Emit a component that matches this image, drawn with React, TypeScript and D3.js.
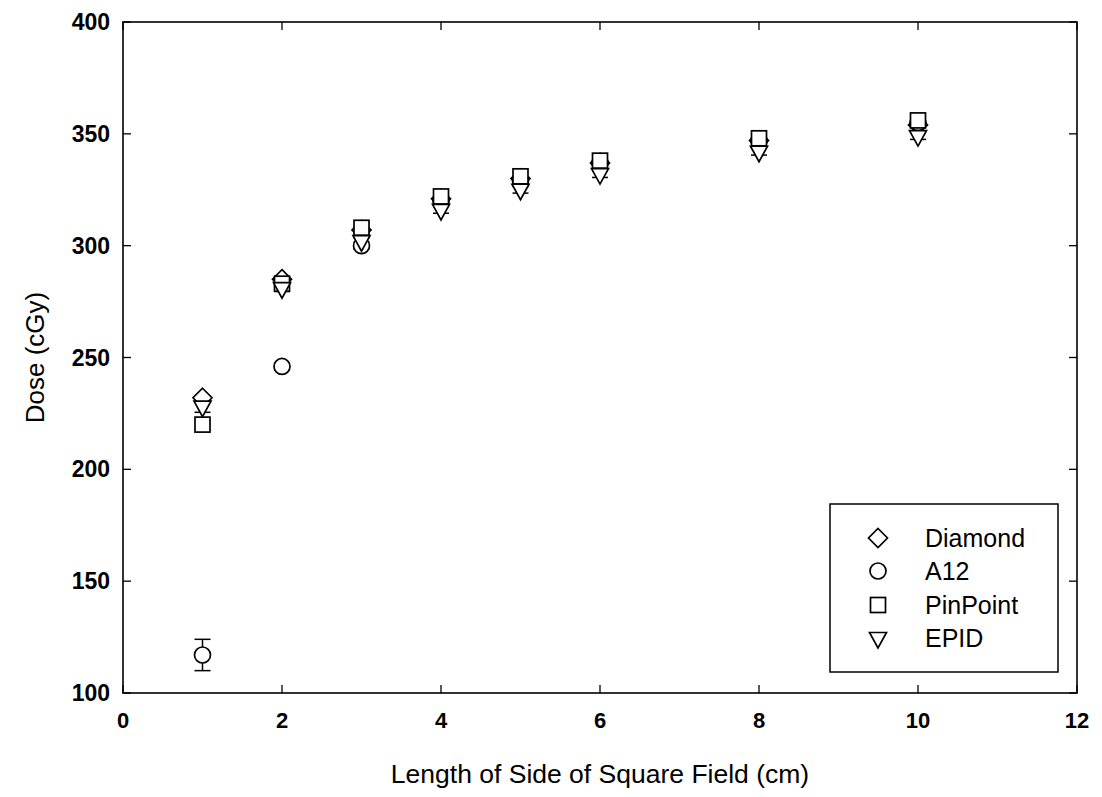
import React from "react";
import * as d3 from "d3";

const fieldSizes = [1, 2, 3, 4, 5, 6, 8, 10];
const diamondDose = [232, 285, 307, 321, 330, 337, 347, 354];
const a12Dose = [117, 246, 300, 320, 329, 337, 347, 355];
const pinpointDose = [220, 283, 308, 322, 331, 338, 348, 356];
const epidDose = [228, 281, 302, 316, 325, 332, 342, 349];
const a12Err = [7, 1.5, 1.5, 1.5, 1.5, 1.5, 1.5, 1.5];
const epidErr = [2.5, 1.5, 1.5, 1.5, 1.5, 1.5, 1.5, 1.5];
const xTicks = [0, 2, 4, 6, 8, 10, 12];
const yTicks = [100, 150, 200, 250, 300, 350, 400];
const seriesNames = ["Diamond", "A12", "PinPoint", "EPID"];

const W = 1102, H = 797;
const M = { left: 123, right: 1077, top: 22, bottom: 693 };
const FONT = "'Liberation Sans', Arial, sans-serif";

function Marker({ kind, x, y }: { kind: string; x: number; y: number }) {
  const common = { fill: "white", stroke: "black", strokeWidth: 1.7 };
  if (kind === "Diamond") {
    const s = 9.5;
    return <path d={`M${x},${y - s}L${x + s},${y}L${x},${y + s}L${x - s},${y}Z`} {...common} />;
  }
  if (kind === "A12") return <circle cx={x} cy={y} r={8} {...common} />;
  if (kind === "PinPoint") return <rect x={x - 7.5} y={y - 7.5} width={15} height={15} {...common} />;
  const s = 8.5;
  return <path d={`M${x - s},${y - 5.5}L${x + s},${y - 5.5}L${x},${y + 10}Z`} {...common} />;
}

export default function App() {
  const x = d3.scaleLinear().domain([0, 12]).range([M.left, M.right]);
  const y = d3.scaleLinear().domain([100, 400]).range([M.bottom, M.top]);
  const series: { name: string; vals: number[]; err?: number[] }[] = [
    { name: "Diamond", vals: diamondDose },
    { name: "A12", vals: a12Dose, err: a12Err },
    { name: "PinPoint", vals: pinpointDose },
    { name: "EPID", vals: epidDose, err: epidErr },
  ];
  const tickLen = 8;
  const legendRows = [538, 571, 605, 638];
  return (
    <svg width={W} height={H} style={{ position: "absolute", left: 0, top: 0, background: "white" }}>
      <rect x={0} y={0} width={W} height={H} fill="white" />
      {series.map((s) =>
        s.err
          ? s.vals.map((v, i) => {
              const cx = x(fieldSizes[i]);
              const e = s.err![i];
              return (
                <g key={s.name + "e" + i} stroke="black" strokeWidth={1.5}>
                  <line x1={cx} x2={cx} y1={y(v + e)} y2={y(v - e)} />
                  <line x1={cx - 8} x2={cx + 8} y1={y(v + e)} y2={y(v + e)} />
                  <line x1={cx - 8} x2={cx + 8} y1={y(v - e)} y2={y(v - e)} />
                </g>
              );
            })
          : null
      )}
      {series.map((s) =>
        s.vals.map((v, i) => <Marker key={s.name + i} kind={s.name} x={x(fieldSizes[i])} y={y(v)} />)
      )}
      <rect x={M.left} y={M.top} width={M.right - M.left} height={M.bottom - M.top} fill="none" stroke="black" strokeWidth={1.6} />
      {xTicks.map((t) => (
        <g key={"xt" + t}>
          <line x1={x(t)} x2={x(t)} y1={M.bottom} y2={M.bottom - tickLen} stroke="black" strokeWidth={1.3} />
          <line x1={x(t)} x2={x(t)} y1={M.top} y2={M.top + tickLen} stroke="black" strokeWidth={1.3} />
          <text x={x(t)} y={M.bottom + 35} textAnchor="middle" fontFamily={FONT} fontSize={22} fontWeight="bold">{t}</text>
        </g>
      ))}
      {yTicks.map((t) => (
        <g key={"yt" + t}>
          <line x1={M.left} x2={M.left + tickLen} y1={y(t)} y2={y(t)} stroke="black" strokeWidth={1.3} />
          <line x1={M.right} x2={M.right - tickLen} y1={y(t)} y2={y(t)} stroke="black" strokeWidth={1.3} />
          <text x={M.left - 13} y={y(t) + 8} textAnchor="end" fontFamily={FONT} fontSize={23} fontWeight="bold">{t}</text>
        </g>
      ))}
      <text x={(M.left + M.right) / 2} y={783} textAnchor="middle" fontFamily={FONT} fontSize={26.5}>
        Length of Side of Square Field (cm)
      </text>
      <text transform={`translate(44,${(M.top + M.bottom) / 2}) rotate(-90)`} textAnchor="middle" fontFamily={FONT} fontSize={26}>
        Dose (cGy)
      </text>
      <rect x={830} y={504} width={228} height={168} fill="white" stroke="black" strokeWidth={1.5} />
      {seriesNames.map((n, i) => (
        <g key={"lg" + n}>
          <Marker kind={n} x={878} y={legendRows[i]} />
          <text x={925} y={legendRows[i] + 9} fontFamily={FONT} fontSize={25}>{n}</text>
        </g>
      ))}
    </svg>
  );
}
